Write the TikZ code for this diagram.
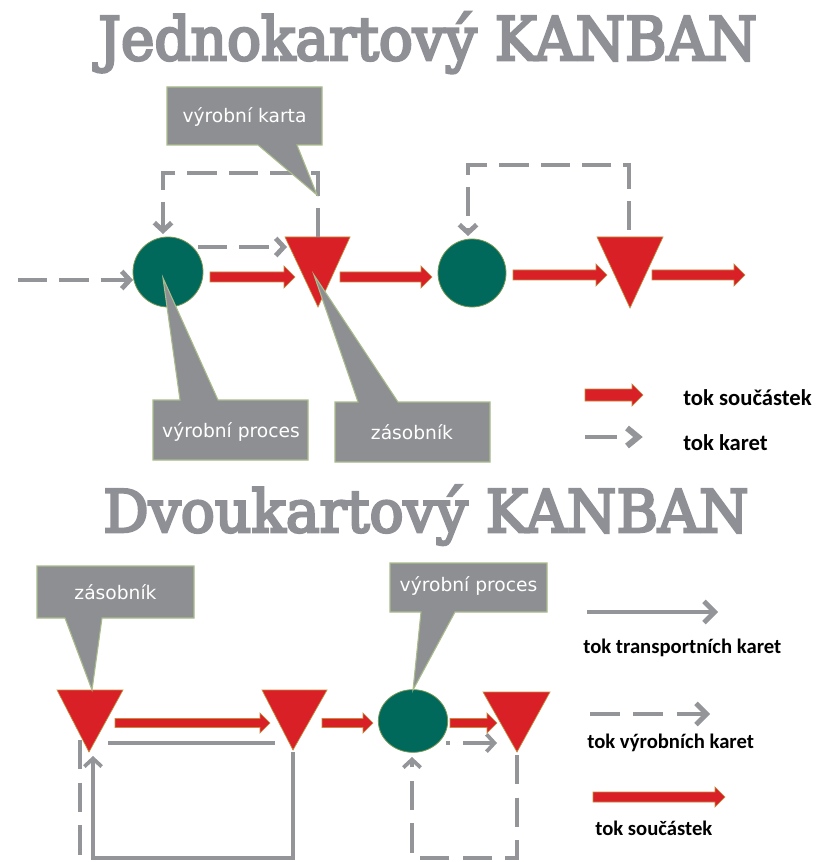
\documentclass[tikz,border=0pt]{standalone}
\usepackage{fontspec}
\usepackage{graphicx}
\setmainfont{DejaVu Sans}
\newfontfamily\titlefont[UprightFeatures={FakeBold=4.5}]{DejaVu Serif}
\newfontfamily\legfont{Carlito}
\usetikzlibrary{arrows.meta,shapes.geometric}
\definecolor{tgray}{RGB}{143,144,149}
\definecolor{cgray}{RGB}{142,143,146}
\definecolor{cborder}{RGB}{170,188,140}
\definecolor{kteal}{RGB}{0,105,92}
\definecolor{ktealb}{RGB}{120,150,80}
\definecolor{kred}{RGB}{217,32,39}
\definecolor{kredb}{RGB}{196,140,60}
\definecolor{agray}{RGB}{148,149,153}
\tikzset{
  redarrow/.style={fill=kred, draw=kredb, line width=0.5pt, line join=miter},
  procnode/.style={circle, fill=kteal, draw=ktealb, line width=0.6pt, inner sep=0pt},
  stocktri/.style={fill=kred, draw=kredb, line width=0.5pt},
  callout/.style={fill=cgray, draw=cborder, line width=0.8pt},
  ctext/.style={text=white, inner sep=0pt, font=\fontsize{14pt}{16pt}\selectfont},
  gline/.style={draw=agray, line width=3.6pt},
  gthin/.style={draw=agray, line width=2.8pt},
  gdash/.style={gline, dash pattern=on 22pt off 9pt},
  gdashthin/.style={gthin, dash pattern=on 22pt off 10pt},
  chev/.style={-{Straight Barb[length=6pt,width=13pt]}},
  chevbig/.style={-{Straight Barb[length=8pt,width=16pt]}},
  legtext/.style={anchor=base west, inner sep=0pt, text=black},
  titletext/.style={anchor=base west, inner sep=0pt, text=tgray}
}
% x1, x2, y, body half height, head half height, head length
\newcommand\redarr[6]{%
  \draw[redarrow] (#1,#3-#4) -- (#2-#6,#3-#4) -- (#2-#6,#3-#5) -- (#2,#3)
    -- (#2-#6,#3+#5) -- (#2-#6,#3+#4) -- (#1,#3+#4) -- cycle;}
\begin{document}
\begin{tikzpicture}[x=0.75pt,y=-0.75pt]
\path[use as bounding box, fill=white] (0,0) rectangle (816,862);

% ---------- titles ----------
\node[titletext] (title1) at (98,60)
  {\resizebox{494pt}{\height}{\titlefont\fontsize{45pt}{50pt}\selectfont Jednokartový KANBAN}};
\node[titletext] (title2) at (103,532)
  {\resizebox{484pt}{\height}{\titlefont\fontsize{44pt}{50pt}\selectfont Dvoukartový KANBAN}};

% ================= TOP DIAGRAM =================
\node[procnode, minimum size=52.5pt] (c1) at (168,272) {};
\node[procnode, minimum size=51pt] (c2) at (472,273) {};
\draw[stocktri] (285,237) -- (350,237) -- (318,307) -- cycle;
\coordinate (t1) at (318,262);
\draw[stocktri] (597,237) -- (663,237) -- (630,308) -- cycle;
\coordinate (t2) at (630,262);

% red part flow
\redarr{210}{295}{277}{5}{11}{11}
\redarr{340}{432}{277}{5}{11}{11}
\redarr{513}{607}{275}{5}{11}{11}
\redarr{652}{745}{275}{5}{11}{11}

% card flow (dashed)
\coordinate (in1) at (18,280);
\draw[gdash, chev] (in1) -- (133,280);
\draw[gdash, chev] (198,247) -- (287,247);
\draw[gdash, chev] (318,237) -- (318,173) -- (163,173) -- (163,234);
\draw[gdash, chev] (629,230) -- (629,165) -- (468,165) -- (468,236);

% callouts
\draw[callout] (167,87) -- (322,87) -- (322,145) -- (297,145) -- (317,195)
  -- (258,145) -- (167,145) -- cycle;
\node[ctext] (k1) at (244.5,117) {výrobní karta};
\draw[callout] (153,400) -- (180,400) -- (163,278) -- (218,400) -- (308,400)
  -- (308,460) -- (153,460) -- cycle;
\node[ctext] (p1) at (231,432) {výrobní proces};
\draw[callout] (335,402) -- (358,402) -- (314,275) -- (398,402) -- (490,402)
  -- (490,462) -- (335,462) -- cycle;
\node[ctext] (z1) at (412,432) {zásobník};

% legend top
\redarr{585}{643}{395}{6}{11}{11}
\draw[gline] (585,437) -- (617,437);
\draw[agray, line width=4.5pt, line join=miter, line cap=butt] (627,428) -- (638,437) -- (627,446);
\node[legtext, font=\legfont\bfseries\fontsize{17pt}{20pt}\selectfont] (l1) at (683,405) {tok součástek};
\node[legtext, font=\legfont\bfseries\fontsize{17pt}{20pt}\selectfont] (l2) at (683,450) {tok karet};

% ================= BOTTOM DIAGRAM =================
\draw[stocktri] (57,690) -- (123,690) -- (89,752) -- cycle;
\coordinate (ta) at (89,712);
\draw[stocktri] (262,690) -- (327,690) -- (293,750) -- cycle;
\coordinate (tb) at (293,712);
\node[procnode, ellipse, minimum width=52pt, minimum height=47pt] (c3) at (413,721) {};
\draw[stocktri] (483,692) -- (550,692) -- (517,752) -- cycle;
\coordinate (tc) at (517,712);

\redarr{115}{270}{723}{4.5}{10}{10}
\redarr{322}{373}{723}{4.5}{10}{10}
\redarr{450}{497}{723}{4.5}{10}{10}

% transport cards (solid)
\draw[gthin] (108,743) -- (275,743);
\draw[gthin, chev] (293,752) -- (293,858) -- (93,858) -- (93,756);
% production cards (dashed)
\draw[gdashthin] (80,740) -- (80,870);
\draw[gthin] (446,743) -- (450,743);
\draw[gthin, chev] (463,743) -- (497,743);
\draw[gdashthin, chev] (517,755) -- (517,858) -- (412,858) -- (412,757);

% callouts
\draw[callout] (37,566) -- (194,566) -- (194,618) -- (102,618) -- (92,690)
  -- (65,618) -- (37,618) -- cycle;
\node[ctext] (z2) at (115.5,592) {zásobník};
\draw[callout] (390,563) -- (547,563) -- (547,612) -- (455,612) -- (413,690)
  -- (421,612) -- (390,612) -- cycle;
\node[ctext] (p2) at (468.5,586) {výrobní proces};

% legend bottom
\draw[gline, chevbig] (587,612) -- (718,612);
\node[legtext, font=\legfont\bfseries\fontsize{15.5pt}{18pt}\selectfont] (l3) at (583,653) {tok transportních karet};
\draw[gline, chevbig, dash pattern=on 22.5pt off 10pt] (590,714) -- (710,714);
\node[legtext, font=\legfont\bfseries\fontsize{15.5pt}{18pt}\selectfont] (l4) at (587,748) {tok výrobních karet};
\redarr{593}{725}{797}{5}{10}{10}
\node[legtext, font=\legfont\bfseries\fontsize{15.5pt}{18pt}\selectfont] (l5) at (595,835) {tok součástek};
\end{tikzpicture}
\end{document}
